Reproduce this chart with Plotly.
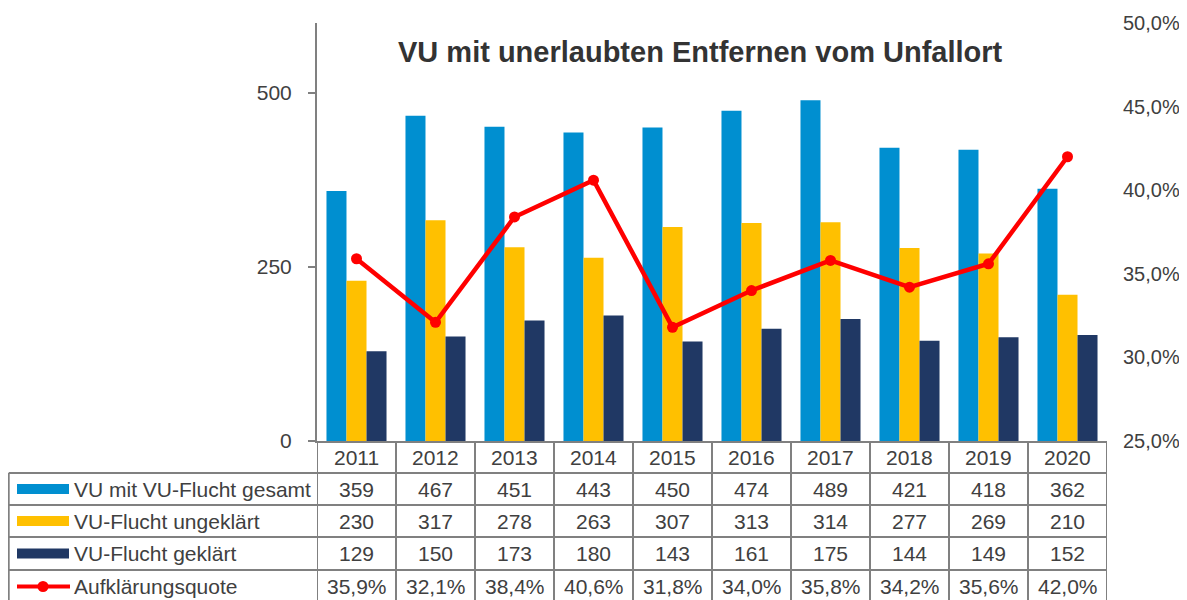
import plotly.graph_objects as go

years = ["2011", "2012", "2013", "2014", "2015", "2016", "2017", "2018", "2019", "2020"]
gesamt = [359, 467, 451, 443, 450, 474, 489, 421, 418, 362]
ungeklaert = [230, 317, 278, 263, 307, 313, 314, 277, 269, 210]
geklaert = [129, 150, 173, 180, 143, 161, 175, 144, 149, 152]
quote = [0.359, 0.321, 0.384, 0.406, 0.318, 0.340, 0.358, 0.342, 0.356, 0.420]

series_names = ["VU mit VU-Flucht gesamt", "VU-Flucht ungeklärt", "VU-Flucht geklärt", "Aufklärungsquote"]
title_text = "VU mit unerlaubten Entfernen vom Unfallort"

C_BLUE = "#008FD0"
C_YEL = "#FFC000"
C_NAVY = "#203864"
C_RED = "#FF0000"
C_GRID = "#808080"
C_TXT = "#404040"
FONT = "Liberation Sans, Arial, sans-serif"

# page offset of the figure (body margin)
OFF = 8
W, H = 1187 - OFF, 600 - OFF
L, R, T, B = 317, 1107, 23, 441  # plot area in page px


def px(x):
    return (x - L) / (R - L)


def py(y):
    return (B - y) / (B - T)


fig = go.Figure()
fig.add_trace(go.Bar(x=years, y=gesamt, name=series_names[0], marker_color=C_BLUE, marker_line_width=0))
fig.add_trace(go.Bar(x=years, y=ungeklaert, name=series_names[1], marker_color=C_YEL, marker_line_width=0))
fig.add_trace(go.Bar(x=years, y=geklaert, name=series_names[2], marker_color=C_NAVY, marker_line_width=0))
fig.add_trace(go.Scatter(x=years, y=quote, name=series_names[3], yaxis="y2", mode="lines+markers",
                         line=dict(color=C_RED, width=4.5), marker=dict(color=C_RED, size=11)))

shapes = []
annotations = []

row_edges = [441, 473, 505, 537, 570, 603]
left_x = 8.7
n = len(years)

for i in range(n + 1):
    shapes.append(dict(type="line", xref="x", yref="paper", x0=i - 0.5, x1=i - 0.5,
                       y0=py(row_edges[0]), y1=py(row_edges[-1]),
                       line=dict(color=C_GRID, width=2)))
shapes.append(dict(type="line", xref="paper", yref="paper", x0=px(left_x), x1=px(left_x),
                   y0=py(row_edges[1]), y1=py(row_edges[-1]), line=dict(color=C_GRID, width=2)))
for y in row_edges[1:-1]:
    shapes.append(dict(type="line", xref="paper", yref="paper", x0=px(left_x), x1=1,
                       y0=py(y), y1=py(y), line=dict(color=C_GRID, width=2)))

rows = [gesamt, ungeklaert, geklaert, quote]
colors = [C_BLUE, C_YEL, C_NAVY, C_RED]
FS = 21
for r, vals in enumerate(rows):
    yc = (row_edges[r + 1] + row_edges[r + 2]) / 2
    if r < 3:
        shapes.append(dict(type="rect", xref="paper", yref="paper", x0=px(17), x1=px(69),
                           y0=py(yc + 5), y1=py(yc - 5), fillcolor=colors[r], line=dict(width=0)))
    else:
        shapes.append(dict(type="line", xref="paper", yref="paper", x0=px(17), x1=px(70),
                           y0=py(yc), y1=py(yc), line=dict(color=C_RED, width=4)))
        shapes.append(dict(type="circle", xref="paper", yref="paper", x0=px(37.5), x1=px(48.5),
                           y0=py(yc + 5.5), y1=py(yc - 5.5), fillcolor=C_RED, line=dict(width=0)))
    annotations.append(dict(xref="paper", yref="paper", x=px(72), y=py(yc), xanchor="left",
                            yanchor="middle", text=series_names[r], showarrow=False,
                            font=dict(family=FONT, size=FS, color=C_TXT)))
    for i, v in enumerate(vals):
        txt = (f"{v*100:.1f}%".replace(".", ",")) if r == 3 else str(v)
        annotations.append(dict(xref="x", yref="paper", x=i, y=py(yc), xanchor="center",
                                yanchor="middle", text=txt, showarrow=False,
                                font=dict(family=FONT, size=FS, color=C_TXT)))

for i, yv in enumerate(years):
    annotations.append(dict(xref="x", yref="paper", x=i, y=py(457), xanchor="center",
                            yanchor="middle", text=yv, showarrow=False,
                            font=dict(family=FONT, size=FS, color=C_TXT)))

annotations.append(dict(xref="paper", yref="paper", x=px(700), y=py(52), xanchor="center",
                        yanchor="middle", text="<b>" + title_text + "</b>", showarrow=False,
                        font=dict(family=FONT, size=29, color="#333333")))

fig.update_layout(
    width=W, height=H, autosize=False,
    margin=dict(l=L - OFF, r=1187 - R, t=T - OFF, b=600 - B, pad=0, autoexpand=False),
    paper_bgcolor="white", plot_bgcolor="white",
    separators=",.",
    barmode="group", bargap=0.24, bargroupgap=0,
    showlegend=False,
    font=dict(family=FONT, size=FS, color=C_TXT),
    xaxis=dict(type="category", range=[-0.5, n - 0.5], showticklabels=False, ticks="",
               showline=True, linecolor=C_GRID, linewidth=2, showgrid=False, zeroline=False,
               automargin=False),
    yaxis=dict(range=[0, 600], tickvals=[0, 250, 500], ticks="outside", ticklen=7, tickwidth=2,
               tickcolor=C_GRID, showline=True, linecolor=C_GRID, linewidth=2,
               showgrid=False, zeroline=False, ticklabelstandoff=12, automargin=False,
               tickfont=dict(family=FONT, size=FS, color=C_TXT)),
    yaxis2=dict(range=[0.25, 0.50], overlaying="y", side="right", tickformat=".1%",
                tickvals=[0.25, 0.30, 0.35, 0.40, 0.45, 0.50], showline=False, ticks="",
                showgrid=False, zeroline=False, ticklabelstandoff=15, automargin=False,
                tickfont=dict(family=FONT, size=20, color=C_TXT)),
    shapes=shapes,
    annotations=annotations,
)

fig.write_html("out.html")
